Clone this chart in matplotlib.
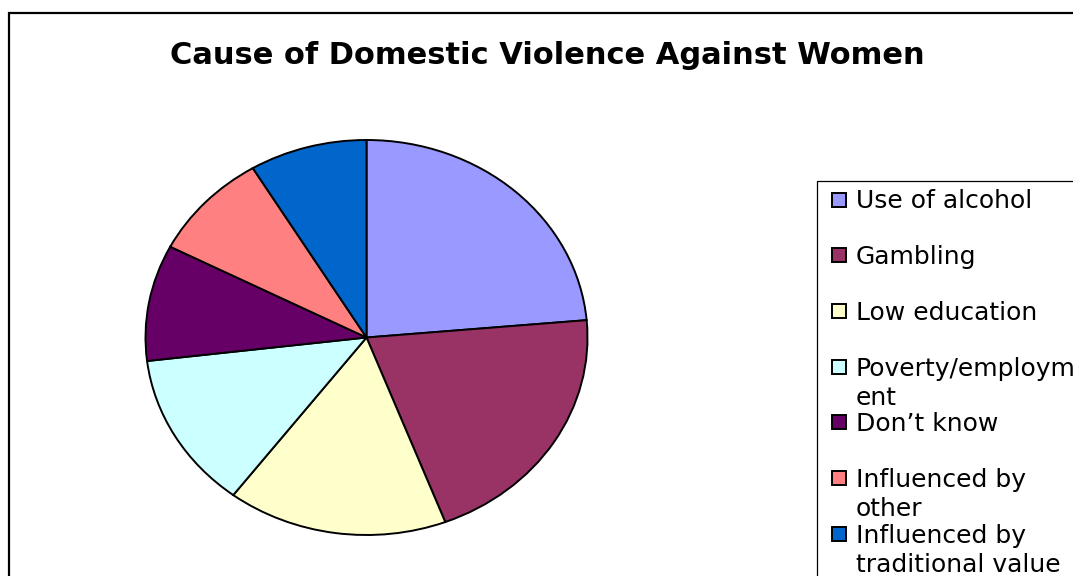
import matplotlib
matplotlib.use("Agg")
import matplotlib.pyplot as plt
from matplotlib.patches import Rectangle

# data (share of responses, %)
causes = ["Use of alcohol", "Gambling", "Low education", "Poverty/employment",
          "Don\u2019t know", "Influenced by other", "Influenced by traditional value"]
legend_text = ["Use of alcohol", "Gambling", "Low education", "Poverty/employm\nent",
               "Don\u2019t know", "Influenced by\nother", "Influenced by\ntraditional value"]
shares = [23.6, 20.6, 16.1, 12.8, 9.5, 8.8, 8.6]
colours = ["#9999FF", "#993366", "#FFFFCC", "#CCFFFF", "#660066", "#FF8080", "#0066CC"]

W, H = 1073, 576
fig = plt.figure(figsize=(W / 100, H / 100), dpi=100)

def fx(x):
    return x / W

def fy(y):
    return 1 - y / H

# outer chart border (runs off the right and bottom edges)
fig.patches.append(Rectangle((fx(9), fy(600)), fx(1100), fy(13) - fy(600),
                             transform=fig.transFigure, fill=False,
                             edgecolor="black", linewidth=1.6))

fig.text(fx(547), fy(55), "Cause of Domestic Violence Against Women",
         ha="center", va="center", fontsize=22, fontweight="bold")

# pie (elliptical, as in the original)
cx, cy, rx, ry, m = 366.5, 337.5, 221, 197.5, 1.03
ax = fig.add_axes([fx(cx - rx * m), fy(cy + ry * m), 2 * rx * m / W, 2 * ry * m / H])
ax.pie(shares, colors=colours, startangle=90, counterclock=False,
       wedgeprops=dict(edgecolor="black", linewidth=1.4))
ax.set_aspect("auto")
ax.set_xlim(-m, m)
ax.set_ylim(-m, m)
ax.axis("off")

# legend box
fig.patches.append(Rectangle((fx(817), fy(600)), fx(400), fy(181) - fy(600),
                             transform=fig.transFigure, fill=False,
                             edgecolor="black", linewidth=0.9))
y0, step = 199.5, 55.7
for i, (lab, col) in enumerate(zip(legend_text, colours)):
    yc = y0 + i * step
    fig.patches.append(Rectangle((fx(832), fy(yc + 7)), fx(14), fy(yc - 7) - fy(yc + 7),
                                 transform=fig.transFigure, facecolor=col,
                                 edgecolor="black", linewidth=1.4))
    fig.text(fx(856), fy(yc - 10), lab, ha="left", va="top",
             fontsize=18, linespacing=1.28)

fig.savefig("out.png", dpi=100)
